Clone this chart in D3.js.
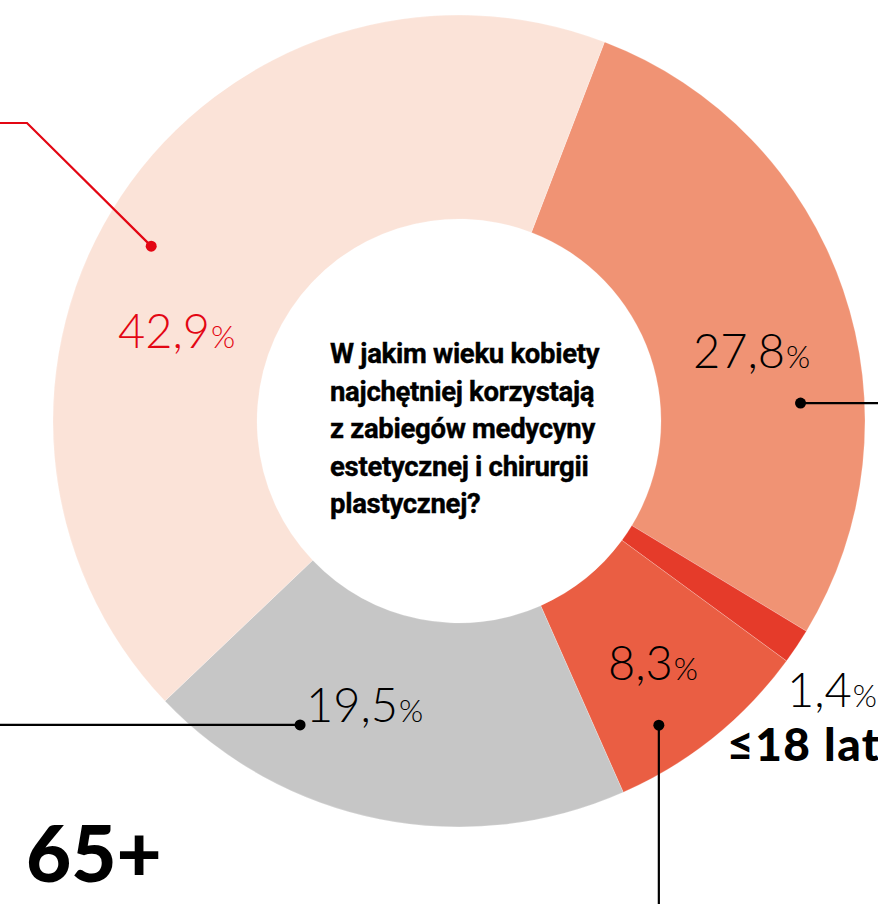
<!DOCTYPE html>
<html>
<head>
<meta charset="utf-8">
<script src="https://cdn.jsdelivr.net/npm/d3@7"></script>
<style>
  html, body { margin: 0; padding: 0; background: #fff; overflow: hidden; }
</style>
</head>
<body>
<div id="chart"></div>
<script>
// data
var ageGroups = ['19-34', '≤18 lat', '55-64', '45-54', '65+'];
var shares = [27.8, 1.4, 8.3, 19.5, 42.9];
var sliceColors = ['#F09374', '#E53B2A', '#EA5E43', '#C6C6C6', '#FBE3D8'];
var shareLabels = ['27,8', '1,4', '8,3', '19,5', '42,9'];
var question = ['W jakim wieku kobiety', 'najchętniej korzystają', 'z zabiegów medycyny',
                'estetycznej i chirurgii', 'plastycznej?'];

var w = 878, h = 904;
var cx = 459, cy = 421;
var outerR = 406, innerR = 202;
var red = '#E30613';

var svg = d3.select('#chart').append('svg')
    .attr('width', w)
    .attr('height', h);

var pie = d3.pie()
    .sort(null)
    .value(d => d)
    .startAngle(21 * Math.PI / 180)
    .endAngle(381 * Math.PI / 180);

var arc = d3.arc()
    .innerRadius(innerR)
    .outerRadius(outerR);

var g = svg.append('g')
    .attr('transform', `translate(${cx},${cy})`);

g.selectAll('path')
    .data(pie(shares))
    .enter()
    .append('path')
    .attr('d', arc)
    .attr('fill', (d, i) => sliceColors[i])
    .attr('stroke', '#fff')
    .attr('stroke-opacity', 0.35)
    .attr('stroke-width', 0.6);

// point inside the ring, angle in degrees from 12 o'clock
function polar(deg, r) {
    var a = deg * Math.PI / 180;
    return [cx + r * Math.sin(a), cy - r * Math.cos(a)];
}

// leader lines with dots
var leaders = [
    {dot: polar(299.6, 354), path: p => `M${p[0]},${p[1]}L27,123L0,123`, color: red},
    {dot: polar(87, 342), path: p => `M${p[0]},${p[1]}L${w},${p[1]}`, color: '#000'},
    {dot: polar(207.6, 343), path: p => `M${p[0]},${p[1]}L0,${p[1]}`, color: '#000'},
    {dot: polar(146.7, 364), path: p => `M${p[0]},${p[1]}L${p[0]},${h}`, color: '#000'}
];

leaders.forEach(function(l) {
    svg.append('path')
        .attr('d', l.path(l.dot))
        .attr('fill', 'none')
        .attr('stroke', l.color)
        .attr('stroke-width', 2.2);
    svg.append('circle')
        .attr('cx', l.dot[0])
        .attr('cy', l.dot[1])
        .attr('r', 5.5)
        .attr('fill', l.color);
});

// percentage labels
var labelPos = [[693, 368], [787, 707], [608, 680], [306, 722], [118, 348]];
var labelColor = ['#000', '#000', '#000', '#000', red];

shares.forEach(function(v, i) {
    var t = svg.append('text')
        .attr('x', labelPos[i][0])
        .attr('y', labelPos[i][1])
        .attr('fill', labelColor[i])
        .attr('font-family', 'Lato, "Open Sans", sans-serif')
        .attr('font-weight', 300)
        .attr('font-size', 47);
    t.append('tspan').text(shareLabels[i]);
    t.append('tspan').attr('font-size', 31).attr('dx', 1).text('%');
});

// category labels
svg.append('text')
    .attr('x', 26)
    .attr('y', 882)
    .attr('font-family', 'Lato, sans-serif')
    .attr('font-weight', 900)
    .attr('font-size', 78)
    .text(ageGroups[4]);

svg.append('text')
    .attr('x', 727)
    .attr('y', 761)
    .attr('font-family', 'Lato, sans-serif')
    .attr('font-weight', 900)
    .attr('font-size', 46)
    .attr('letter-spacing', 1.5)
    .text(ageGroups[1]);

// question in the middle
svg.append('text')
    .attr('font-family', 'Roboto, sans-serif')
    .attr('font-weight', 700)
    .attr('font-size', 27.5)
    .attr('letter-spacing', -0.3)
    .attr('fill', '#000')
    .attr('stroke', '#000')
    .attr('stroke-width', 0.4)
    .selectAll('tspan')
    .data(question)
    .enter()
    .append('tspan')
    .attr('x', 330)
    .attr('y', (d, i) => 363 + i * 37.5)
    .text(d => d);
</script>
</body>
</html>
